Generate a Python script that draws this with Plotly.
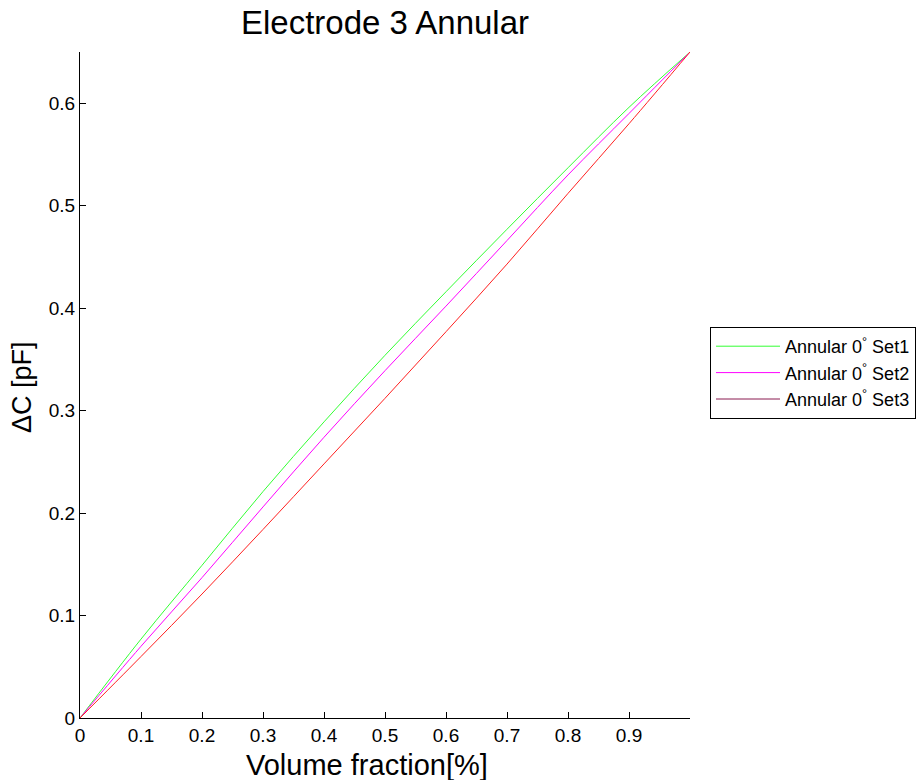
import plotly.graph_objects as go

# Volume fraction samples and measured capacitance change per set
volume_fraction = [0.0, 0.1, 0.2, 0.3, 0.4, 0.5, 0.6, 0.7, 0.8, 0.9, 1.0]
set1_dc = [0.0, 0.077, 0.149, 0.221, 0.289, 0.354, 0.416, 0.477, 0.537, 0.596, 0.65]
set2_dc = [0.0, 0.070, 0.137, 0.206, 0.274, 0.339, 0.402, 0.466, 0.530, 0.590, 0.65]
set3_dc = [0.0, 0.060, 0.121, 0.184, 0.248, 0.312, 0.377, 0.443, 0.512, 0.580, 0.65]

x_ticks = [0, 0.1, 0.2, 0.3, 0.4, 0.5, 0.6, 0.7, 0.8, 0.9]
x_tick_labels = ["0", "0.1", "0.2", "0.3", "0.4", "0.5", "0.6", "0.7", "0.8", "0.9"]
y_ticks = [0, 0.1, 0.2, 0.3, 0.4, 0.5, 0.6]
y_tick_labels = ["0", "0.1", "0.2", "0.3", "0.4", "0.5", "0.6"]

series = [
    ("Annular 0<sup>°</sup> Set1", set1_dc, "#33ff33", "#33ff33"),
    ("Annular 0<sup>°</sup> Set2", set2_dc, "#ff00ff", "#ff00ff"),
    ("Annular 0<sup>°</sup> Set3", set3_dc, "#ff2020", "#8a1a50"),
]

FONT = "Liberation Sans, Arial, sans-serif"

fig = go.Figure()
for name, vals, color, legend_color in series:
    fig.add_trace(go.Scatter(
        x=volume_fraction, y=vals, mode="lines", name=name,
        line=dict(color=color, width=1), showlegend=False,
        line_shape="spline",
    ))
    # legend swatch
    fig.add_trace(go.Scatter(
        x=[None], y=[None], mode="lines", name=name,
        line=dict(color=legend_color, width=1),
    ))

fig.update_layout(
    width=924, height=780,
    margin=dict(l=80, r=234, t=52, b=62, autoexpand=False),
    paper_bgcolor="white", plot_bgcolor="white",
    font=dict(family=FONT, color="black", size=19),
    title=dict(text="Electrode 3 Annular", x=0.5, xref="paper",
               y=1 - 22 / 780, yanchor="middle",
               font=dict(size=33, family=FONT, color="black")),
    xaxis=dict(
        range=[0, 1], tickvals=x_ticks, ticktext=x_tick_labels,
        ticks="inside", ticklen=6, tickcolor="black",
        showline=True, linecolor="black", linewidth=1,
        showgrid=False, zeroline=False, mirror=False,
        tickfont=dict(size=19), automargin=False,
    ),
    yaxis=dict(
        range=[0, 0.65], tickvals=y_ticks, ticktext=y_tick_labels,
        ticks="inside", ticklen=6, tickcolor="black",
        showline=True, linecolor="black", linewidth=1,
        showgrid=False, zeroline=False, mirror=False,
        tickfont=dict(size=19), automargin=False,
    ),
    legend=dict(
        x=(710 - 80) / 610, xanchor="left",
        y=(718 - 373) / 666, yanchor="middle",
        bordercolor="black", borderwidth=1, bgcolor="white",
        font=dict(size=18), tracegroupgap=0, itemwidth=64,
    ),
)

# axis titles
fig.add_annotation(
    text="Volume fraction[%]", xref="paper", yref="paper",
    x=(367 - 80) / 610, y=(718 - 765) / 666,
    xanchor="center", yanchor="middle", showarrow=False,
    font=dict(size=29, family=FONT, color="black"),
)
fig.add_annotation(
    text="ΔC [pF]", xref="paper", yref="paper",
    x=(22 - 80) / 610, y=(718 - 387) / 666, textangle=-90,
    xanchor="center", yanchor="middle", showarrow=False,
    font=dict(size=27, family=FONT, color="black"),
)

fig.write_html("out.html")
